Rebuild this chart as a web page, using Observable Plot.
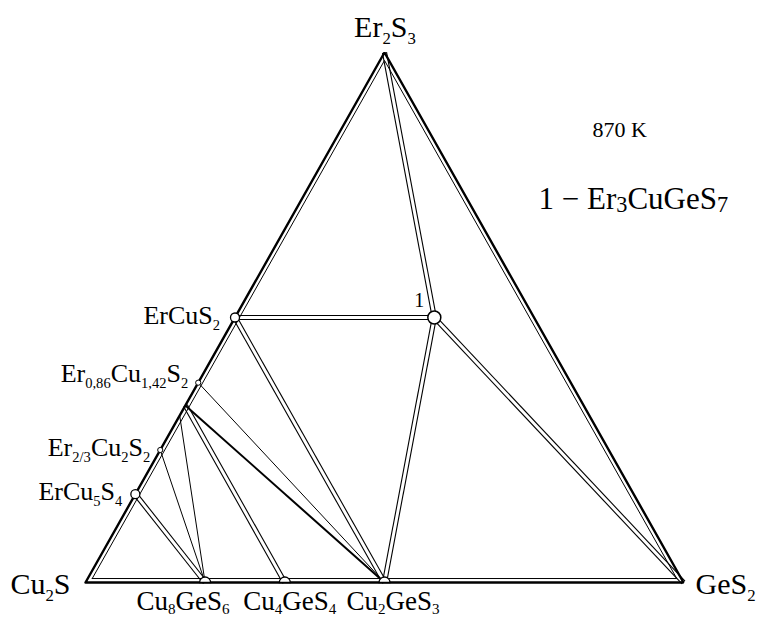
<!DOCTYPE html>
<html><head><meta charset="utf-8">
<script src="https://cdn.jsdelivr.net/npm/d3@7"></script>
<script src="https://cdn.jsdelivr.net/npm/@observablehq/plot@0.6"></script>
<style>html,body{margin:0;padding:0;background:#fff}</style>
</head><body><div id="chart"></div>
<script>
// Compositions as mole fractions of Er2S3 and GeS2 (Cu2S = the rest)
const nodeNames = ["Cu2S","Er2S3","GeS2","ErCuS2","Er0.86Cu1.42S2","ssA","ssB","Er2/3Cu2S2","ErCu5S4","Cu8GeS6","Cu4GeS4","Cu2GeS3","Er3CuGeS7"];
const nodeEr    = [0, 1, 0, 0.5, 0.377, 0.334, 0.315, 0.25, 0.1667, 0, 0, 0, 0.5];
const nodeGe    = [0, 0, 1, 0,   0,     0,     0,     0,    0,      0.2, 0.3333, 0.5, 0.3333];

// Tie lines (from, to, kind)
const tieFrom = ["Er2S3","ErCuS2","Er3CuGeS7","Er3CuGeS7","ErCuS2","ssA","Er0.86Cu1.42S2","ssA","ssB","Er2/3Cu2S2","ErCu5S4"];
const tieTo   = ["Er3CuGeS7","Er3CuGeS7","GeS2","Cu2GeS3","Cu2GeS3","Cu4GeS4","Cu2GeS3","Cu2GeS3","Cu8GeS6","Cu8GeS6","Cu8GeS6"];
const tieKind = ["double","double","double","double","double","double","thin","thick","thin","thin","double"];

// Labels
const labelNode = ["Er2S3","Cu2S","GeS2","ErCuS2","Er0.86Cu1.42S2","Er2/3Cu2S2","ErCu5S4","Cu8GeS6","Cu4GeS4","Cu2GeS3","Er3CuGeS7"];
const labelText = ["Er_2S_3","Cu_2S","GeS_2","ErCuS_2","Er_{0,86}Cu_{1,42}S_2","Er_{2/3}Cu_2S_2","ErCu_5S_4","Cu_8GeS_6","Cu_4GeS_4","Cu_2GeS_3","1"];
const temperatureText = "870 K";
const legendText = "1 \u2212 Er_3CuGeS_7";

// ---- layout (styles, not data) ----
const layout = {
  "Er2S3":          {dx: 0.5, dy: -16, anchor: "middle", size: 30, shift: 0.24},
  "Cu2S":           {dx: -15, dy: 11,  anchor: "end",    size: 30, shift: 0.24},
  "GeS2":           {dx: 12,  dy: 11,  anchor: "start",  size: 30, shift: 0.24},
  "ErCuS2":         {dx: -15, dy: 6,   anchor: "end",    size: 26, shift: 0.24},
  "Er0.86Cu1.42S2": {dx: -10, dy: -1,  anchor: "end",    size: 26, shift: 0.24},
  "Er2/3Cu2S2":     {dx: -10, dy: 5.5, anchor: "end",    size: 26, shift: 0.24},
  "ErCu5S4":        {dx: -13, dy: 6,   anchor: "end",    size: 26, shift: 0.24},
  "Cu8GeS6":        {dx: -22, dy: 27,  anchor: "middle", size: 27, shift: 0.17},
  "Cu4GeS4":        {dx: 5,   dy: 27,  anchor: "middle", size: 27, shift: 0.17},
  "Cu2GeS3":        {dx: 8.5, dy: 27,  anchor: "middle", size: 27, shift: 0.17},
  "Er3CuGeS7":      {dx: -15, dy: -11, anchor: "middle", size: 20, shift: 0.24}
};
const FONT = "Liberation Serif, Times New Roman, serif";

const idx = Object.fromEntries(nodeNames.map((n, i) => [n, i]));
const X = i => nodeGe[i] + nodeEr[i] / 2;
const Y = i => nodeEr[i];

const ties = tieFrom.map((f, k) => ({a: idx[f], b: idx[tieTo[k]], kind: tieKind[k]}));
const doubles = ties.filter(t => t.kind === "double");
const thins = ties.filter(t => t.kind === "thin");
const thicks = ties.filter(t => t.kind === "thick");

const corners = ["Cu2S","Er2S3","GeS2","Cu2S"].map(n => idx[n]);
const inset = 0.0075;
const innerTri = [[1 - 2*inset, inset, inset],[inset, 1 - 2*inset, inset],[inset, inset, 1 - 2*inset],[1 - 2*inset, inset, inset]]
  .map(([cu, er, ge]) => ({x: ge + er/2, y: er}));

const semicircle = {
  draw(context, size) {
    const r = Math.sqrt(size / Math.PI);
    context.moveTo(r, 0);
    context.arc(0, 0, r, 0, Math.PI, true);
    context.closePath();
  }
};

const linkOpts = {x1: d => X(d.a), y1: d => Y(d.a), x2: d => X(d.b), y2: d => Y(d.b)};

const marks = [
  Plot.link(doubles, {...linkOpts, stroke: "black", strokeWidth: 5.2}),
  Plot.link(doubles, {...linkOpts, stroke: "white", strokeWidth: 3.0}),
  Plot.link(thins, {...linkOpts, stroke: "black", strokeWidth: 1}),
  Plot.link(thicks, {...linkOpts, stroke: "black", strokeWidth: 2}),
  Plot.line(innerTri, {x: "x", y: "y", stroke: "black", strokeWidth: 1}),
  Plot.line(corners, {x: X, y: Y, stroke: "black", strokeWidth: 2.4, strokeLinejoin: "miter"}),
  Plot.dot(["Cu8GeS6","Cu4GeS4","Cu2GeS3"].map(n => idx[n]), {x: X, y: Y, r: 5.5, symbol: semicircle, fill: "white", stroke: "black", strokeWidth: 1.3}),
  Plot.dot(["ErCuS2","ErCu5S4"].map(n => idx[n]), {x: X, y: Y, r: 4.5, fill: "white", stroke: "black", strokeWidth: 1.3}),
  Plot.dot(["Er0.86Cu1.42S2","Er2/3Cu2S2"].map(n => idx[n]), {x: X, y: Y, r: 2.6, fill: "white", stroke: "black", strokeWidth: 1}),
  Plot.dot([idx["Er3CuGeS7"]], {x: X, y: Y, r: 6.5, fill: "white", stroke: "black", strokeWidth: 1.5}),
  ...labelNode.map((n, k) => {
    const L = layout[n];
    return Plot.text([idx[n]], {x: X, y: Y, text: () => labelText[k], dx: L.dx, dy: L.dy,
      textAnchor: L.anchor, lineAnchor: "bottom", fontSize: L.size, fontFamily: FONT, fill: "black"});
  }),
  Plot.text([temperatureText], {frameAnchor: "top-left", text: d => d, dx: 592, dy: 136, textAnchor: "start",
    lineAnchor: "bottom", fontSize: 22, fontFamily: FONT, fill: "black"}),
  Plot.text([legendText], {frameAnchor: "top-left", text: d => d, dx: 538, dy: 208, textAnchor: "start",
    lineAnchor: "bottom", fontSize: 31, fontFamily: FONT, fill: "black"})
];

const svg = Plot.plot({
  width: 763, height: 617,
  marginTop: 0, marginRight: 0, marginBottom: 0, marginLeft: 0,
  x: {domain: [0, 1], range: [85, 683], axis: null},
  y: {domain: [0, 1], range: [582, 52], axis: null},
  style: {background: "white"},
  marks
});
document.getElementById("chart").append(svg);

// Subscripts: rewrite "_x" / "_{...}" into tspans
const SVGNS = "http://www.w3.org/2000/svg";
function subscriptify(t, size, scale, shift) {
  const raw = t.textContent;
  t.setAttribute("dy", "0");
  if (!raw.includes("_")) return;
  const re = /_\{([^}]*)\}|_(.)/g;
  let last = 0, m, off = 0;
  t.textContent = "";
  const add = (str, isSub) => {
    if (!str) return;
    const ts = document.createElementNS(SVGNS, "tspan");
    ts.textContent = str;
    const target = isSub ? shift * size : 0;
    const d = target - off;
    if (d) ts.setAttribute("dy", d);
    off = target;
    if (isSub) ts.setAttribute("font-size", size * scale);
    t.appendChild(ts);
  };
  while ((m = re.exec(raw))) {
    add(raw.slice(last, m.index), false);
    add(m[1] !== undefined ? m[1] : m[2], true);
    last = re.lastIndex;
  }
  add(raw.slice(last), false);
}
const cfgOf = {};
labelNode.forEach((n, k) => cfgOf[labelText[k]] = layout[n]);
svg.querySelectorAll("text").forEach(t => {
  const raw = t.textContent;
  if (raw === legendText) subscriptify(t, 31, 0.72, 0.12);
  else if (raw === temperatureText) subscriptify(t, 22, 0.6, 0.25);
  else {
    const c = cfgOf[raw] || {size: 26, shift: 0.24};
    subscriptify(t, c.size, 0.56, c.shift);
  }
});
</script>
</body></html>
